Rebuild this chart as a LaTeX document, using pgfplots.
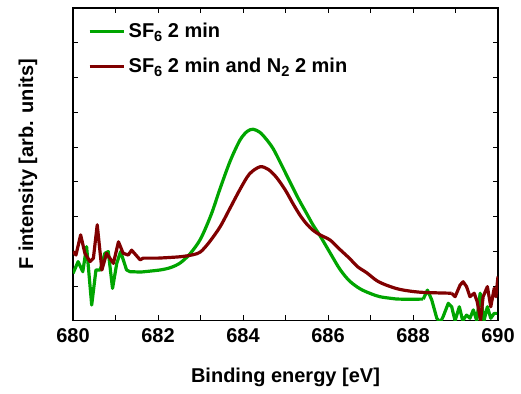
\documentclass[border=0pt]{standalone}
\usepackage{fontspec}
\setmainfont{Liberation Sans}
\usepackage{pgfplots}
\pgfplotsset{compat=1.18}
\definecolor{cgreen}{RGB}{0,165,0}
\definecolor{cred}{RGB}{128,0,0}
\newcommand{\sub}[1]{\raisebox{-0.35ex}{\fontsize{11}{12}\selectfont #1}}
\begin{document}
\begin{tikzpicture}
\path[use as bounding box] (-54.75pt,-54.75pt) rectangle (336pt,240.5pt);
\begin{axis}[
  scale only axis,
  width=318.75pt, height=234.5pt,
  at={(0,0)}, anchor=south west,
  xmin=680, xmax=690, ymin=0, ymax=9,
  xtick={680,682,...,690},
  minor xtick={681,683,...,689},
  ytick={1,2,...,8},
  yticklabels={},
  tick align=inside,
  major tick length=4pt, minor tick length=4pt,
  tick style={black, line width=0.6pt},
  axis line style={black, line width=0.9pt},
  /pgf/number format/assume math mode=true,
  /pgf/number format/1000 sep={},
  ticklabel style={font=\fontsize{15}{18}\selectfont\bfseries},
  xticklabel style={yshift=-2pt},
  xlabel={\bfseries Binding energy [eV]},
  ylabel={\bfseries F intensity [arb. units]},
  label style={font=\fontsize{15}{18}\selectfont\bfseries},
  xlabel style={at={(axis description cs:0.5,-0.182)}, anchor=center},
  ylabel style={at={(axis description cs:-0.106,0.5)}, anchor=center},
  legend style={at={(0.035,0.96)}, anchor=north west, draw=none, fill=none,
    font=\fontsize{15}{18}\selectfont\bfseries, row sep=9.5pt, inner sep=0pt},
  legend cell align=left,
  legend image code/.code={\draw[#1, line width=2.4pt] (0pt,0pt) -- (26pt,0pt);},
]
% green: noisy left part
\addplot[cgreen, line width=2.4pt, line join=round] coordinates {
(680.00,1.36) (680.12,1.70) (680.23,1.41) (680.32,2.13) (680.44,0.45)
(680.54,1.46) (680.64,1.46) (680.75,1.94) (680.83,1.99) (680.93,0.93)
(681.03,1.65) (681.12,1.99) (681.26,1.46) (681.34,1.41) (681.60,1.40)
};
\addlegendentry{SF\sub{6} 2 min}
\addplot[cred, line width=2.4pt, line join=round] coordinates {
(680.00,1.99) (680.07,1.89) (680.18,2.47) (680.28,1.94) (680.40,1.70)
(680.48,1.80) (680.57,2.76) (680.68,1.46) (680.79,1.94) (680.95,1.65)
(681.07,2.27) (681.18,1.94) (681.30,1.89) (681.38,2.03) (681.48,1.89)
(681.58,1.75) (681.65,1.80) (682.00,1.80)
};
\addlegendentry{SF\sub{6} 2 min and N\sub{2} 2 min}
% green: smooth peak
\addplot[cgreen, line width=2.4pt, smooth, tension=0.5, forget plot] coordinates {
(681.60,1.40) (682.05,1.46) (682.30,1.53) (682.52,1.66) (682.75,1.92) (683.00,2.35)
(683.25,3.05) (683.46,3.80) (683.70,4.60) (683.93,5.20) (684.10,5.45)
(684.24,5.51) (684.40,5.42) (684.55,5.22) (684.71,4.95) (684.90,4.50)
(685.11,3.98) (685.30,3.52) (685.50,3.08) (685.65,2.75) (685.81,2.45)
(686.05,1.95) (686.28,1.48) (686.50,1.15) (686.75,0.92) (687.00,0.78)
(687.22,0.69) (687.50,0.64) (687.69,0.62) (688.24,0.62)
};
% green: noisy right part
\addplot[cgreen, line width=2.4pt, line join=round, forget plot] coordinates {
(688.24,0.62) (688.34,0.88)
(688.44,0.60) (688.56,0.07) (688.64,-0.05) (688.71,0.12) (688.83,0.50)
(688.91,0.40) (688.99,0.00) (689.09,0.40) (689.17,0.00) (689.26,0.16)
(689.34,0.07) (689.42,0.31) (689.50,0.00) (689.58,0.79) (689.67,0.00)
(689.75,0.40) (689.83,0.07) (689.91,0.21) (689.98,0.21)
};
% red: smooth peak
\addplot[cred, line width=2.4pt, smooth, tension=0.5, forget plot] coordinates {
(682.00,1.80) (682.52,1.84) (682.83,1.90)
(683.00,1.98) (683.20,2.25) (683.46,2.70) (683.70,3.25) (683.93,3.78)
(684.15,4.22) (684.40,4.43) (684.60,4.35) (684.79,4.12) (685.00,3.75)
(685.18,3.36) (685.35,3.02) (685.50,2.78) (685.65,2.60) (685.81,2.47)
(686.05,2.32) (686.28,2.05) (686.50,1.80) (686.70,1.55) (686.91,1.38)
(687.15,1.15) (687.38,1.02) (687.69,0.90) (688.16,0.82) (688.91,0.79)
};
% red: noisy right part
\addplot[cred, line width=2.4pt, line join=round, forget plot] coordinates {
(688.91,0.79)
(688.99,0.69) (689.11,1.03) (689.18,1.12) (689.26,0.98) (689.34,0.69)
(689.44,0.79) (689.51,0.55) (689.59,0.02) (689.65,0.69) (689.75,0.98)
(689.83,0.40) (689.91,0.93) (689.95,0.69) (690.00,1.27)
};
\end{axis}
\end{tikzpicture}
\end{document}
